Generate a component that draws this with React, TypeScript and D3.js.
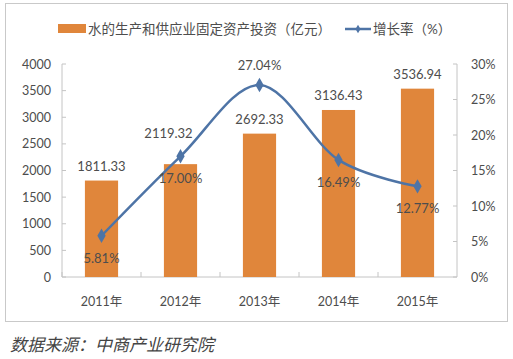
import React from "react";
import * as d3 from "d3";

// chart values
const years = ["2011年", "2012年", "2013年", "2014年", "2015年"];
const investment = [1811.33, 2119.32, 2692.33, 3136.43, 3536.94];
const growth = [5.81, 17.0, 27.04, 16.49, 12.77];
const leftTicks = [0, 500, 1000, 1500, 2000, 2500, 3000, 3500, 4000];
const rightTicks = [0, 5, 10, 15, 20, 25, 30];

const W = 513;
const H = 359;
const plot = { left: 62, right: 457, top: 64, bottom: 277 };
const font = "Lato, 'Noto Sans CJK SC', sans-serif";
const orange = "#e0863b";
const blue = "#4e74a6";
const axisColor = "#c4c4c4";
const textColor = "#4d4d4d";

function App() {
  const x = d3.scaleBand().domain(years).range([plot.left, plot.right]).paddingInner(0.58).paddingOuter(0.29);
  const yL = d3.scaleLinear().domain([0, 4000]).range([plot.bottom, plot.top]);
  const yR = d3.scaleLinear().domain([0, 30]).range([plot.bottom, plot.top]);
  const step = (plot.right - plot.left) / years.length;
  const cx = (i: number) => plot.left + step * (i + 0.5);

  const line = d3
    .line<number>()
    .x((_, i) => cx(i))
    .y((d) => yR(d))
    .curve(d3.curveCardinal.tension(0));

  const diamond = d3.symbol().type(d3.symbolDiamond).size(60)();
  // label below point except the peak; 2012 bar label pushed up and left of the line
  const labelAbove = [false, false, true, false, false];
  const barLabelGap = [10, 26, 10, 10, 10];
  const barLabelShift = [0, -12, 0, 0, 0];

  return (
    <svg width={W} height={H} style={{ position: "absolute", left: 0, top: 0, background: "#fff" }} fontFamily={font}>
      <rect x={5.5} y={3.5} width={502} height={318} fill="#fff" stroke="#c9c9c9" />

      {/* legend */}
      <rect x={58} y={24} width={28} height={9} fill={orange} />
      <text x={88} y={34} fontSize={13.5} fill={textColor}>水的生产和供应业固定资产投资（亿元）</text>
      <line x1={345} x2={371} y1={29} y2={29} stroke={blue} strokeWidth={2.5} />
      <path d={diamond} transform="translate(358,29) scale(0.6)" fill={blue} />
      <text x={373} y={34} fontSize={13.5} fill={textColor}>增长率（%）</text>

      {/* axes */}
      <line x1={plot.left} x2={plot.left} y1={plot.top} y2={plot.bottom} stroke={axisColor} />
      <line x1={plot.right} x2={plot.right} y1={plot.top} y2={plot.bottom} stroke={axisColor} />
      <line x1={plot.left} x2={plot.right} y1={plot.bottom} y2={plot.bottom} stroke={axisColor} />
      {leftTicks.map((t) => (
        <g key={"l" + t}>
          <line x1={plot.left} x2={plot.left + 4} y1={yL(t)} y2={yL(t)} stroke={axisColor} />
          <text x={51} y={yL(t) + 4.5} textAnchor="end" fontSize={12.5} fill={textColor}>{t}</text>
        </g>
      ))}
      {rightTicks.map((t) => (
        <g key={"r" + t}>
          <line x1={plot.right - 4} x2={plot.right} y1={yR(t)} y2={yR(t)} stroke={axisColor} />
          <text x={471} y={yR(t) + 4.5} fontSize={12.5} fill={textColor}>{t + "%"}</text>
        </g>
      ))}
      {years.map((_, i) => (
        <line key={"xt" + i} x1={plot.left + step * i} x2={plot.left + step * i} y1={plot.bottom} y2={plot.bottom - 5} stroke={axisColor} />
      ))}
      {years.map((yr, i) => (
        <text key={yr} x={cx(i)} y={306} textAnchor="middle" fontSize={12.5} fill={textColor}>{yr}</text>
      ))}

      {/* bars */}
      {investment.map((v, i) => (
        <g key={"b" + i}>
          <rect x={x(years[i])!} y={yL(v)} width={x.bandwidth()} height={plot.bottom - yL(v)} fill={orange} />
          <text x={cx(i) + barLabelShift[i]} y={yL(v) - barLabelGap[i]} textAnchor="middle" fontSize={13} fill={textColor}>{v.toFixed(2)}</text>
        </g>
      ))}

      {/* growth line */}
      <path d={line(growth)!} fill="none" stroke={blue} strokeWidth={2.5} />
      {growth.map((g, i) => (
        <g key={"p" + i}>
          <path d={diamond} transform={`translate(${cx(i)},${yR(g)})`} fill={blue} />
          <text x={cx(i)} y={labelAbove[i] ? yR(g) - 15 : yR(g) + 27} textAnchor="middle" fontSize={13} fill={textColor}>
            {g.toFixed(2) + "%"}
          </text>
        </g>
      ))}

      <text x={10} y={351} fontSize={17} fontStyle="italic" fill="#444" fontFamily="'Noto Sans CJK SC', sans-serif">
        数据来源：中商产业研究院
      </text>
    </svg>
  );
}

export default App;
